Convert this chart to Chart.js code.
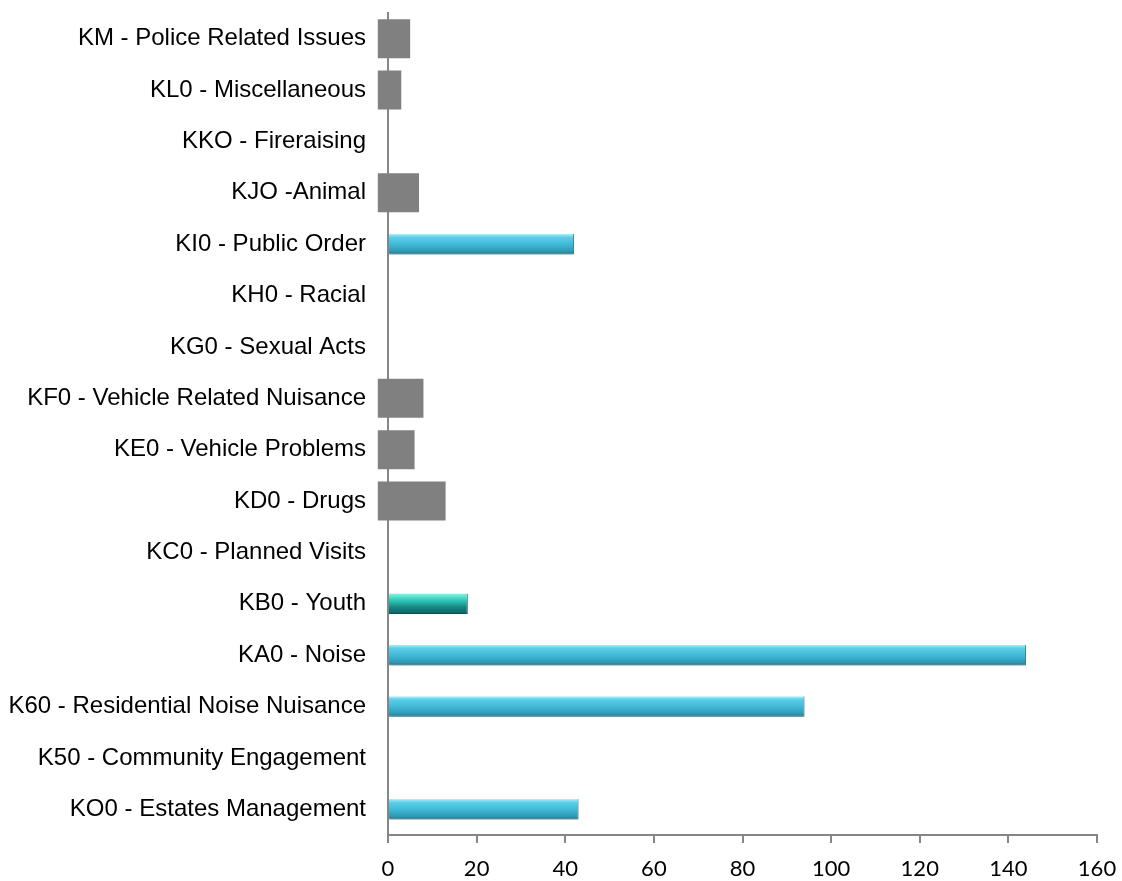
<!DOCTYPE html>
<html>
<head>
<meta charset="utf-8">
<script src="https://cdn.jsdelivr.net/npm/chart.js@4.4.1/dist/chart.umd.min.js"></script>
<style>
html,body{margin:0;padding:0;background:#fff;}
#wrap{width:1122px;height:881px;position:relative;}
</style>
</head>
<body>
<div id="wrap"><canvas id="c" width="1122" height="881"></canvas></div>
<script>
const categories = ['KM - Police Related Issues','KL0 - Miscellaneous','KKO - Fireraising','KJO -Animal','KI0 - Public Order','KH0 - Racial','KG0 - Sexual Acts','KF0 - Vehicle Related Nuisance','KE0 - Vehicle Problems','KD0 - Drugs','KC0 - Planned Visits','KB0 - Youth','KA0 - Noise','K60 - Residential Noise Nuisance','K50 - Community Engagement','KO0 - Estates Management'];
const grayValues = [5, 3, null, 7, null, null, null, 8, 6, 13, null, null, null, null, null, null];
const cyanValues = [null, null, null, null, 42, null, null, null, null, null, null, 18, 144, 94, null, 43];
const xTicks = [0, 20, 40, 60, 80, 100, 120, 140, 160];

const youthIndex = 11;

function cyanFill(ctx) {
  const chart = ctx.chart;
  const y = chart.scales && chart.scales.y;
  if (!y || !chart.chartArea) return '#3fb8d6';
  const yc = y.getPixelForValue(ctx.dataIndex);
  const h = 20;
  const g = chart.ctx.createLinearGradient(0, yc - h / 2, 0, yc + h / 2);
  if (ctx.dataIndex === youthIndex) {
    g.addColorStop(0, '#7ff5e4');
    g.addColorStop(0.3, '#2fcdb8');
    g.addColorStop(0.7, '#14837f');
    g.addColorStop(1, '#0e5f66');
  } else {
    g.addColorStop(0, '#a6eefa');
    g.addColorStop(0.15, '#5ccfe9');
    g.addColorStop(0.55, '#3db6d4');
    g.addColorStop(0.85, '#3099b5');
    g.addColorStop(1, '#2a7489');
  }
  return g;
}

const shadowPlugin = {
  id: 'shadow',
  beforeDatasetDraw(chart, args) {
    if (args.index === 1) {
      const c = chart.ctx;
      c.save();
      c.shadowColor = 'rgba(0,0,0,0.22)';
      c.shadowBlur = 5;
      c.shadowOffsetY = 4;
    }
  },
  afterDatasetDraw(chart, args) {
    if (args.index === 1) chart.ctx.restore();
  }
};

new Chart(document.getElementById('c'), {
  type: 'bar',
  data: {
    labels: categories,
    datasets: [
      {
        data: grayValues,
        backgroundColor: '#808080',
        borderWidth: 0,
        base: -2.3,
        grouped: false,
        categoryPercentage: 1,
        barPercentage: 0.76,
        clip: false,
        order: 2
      },
      {
        data: cyanValues,
        backgroundColor: cyanFill,
        borderColor: ctx => ctx.dataIndex === youthIndex ? '#0e5f66' : '#2b7f93',
        borderWidth: {top: 0, bottom: 1, left: 0, right: 1},
        grouped: false,
        categoryPercentage: 1,
        barPercentage: 0.40,
        clip: false,
        order: 1
      }
    ]
  },
  options: {
    indexAxis: 'y',
    responsive: false,
    animation: false,
    layout: {padding: {top: 13, right: 25, left: 0, bottom: 0}},
    plugins: {legend: {display: false}, tooltip: {enabled: false}},
    scales: {
      x: {
        min: 0,
        max: 160,
        afterBuildTicks: s => { s.ticks = xTicks.map(v => ({value: v})); },
        afterFit: s => { s.height = 46; s.paddingRight = 0; s.paddingLeft = 0; },
        grid: {drawOnChartArea: false, drawTicks: true, tickLength: 8, color: '#868686', lineWidth: 2},
        border: {display: true, color: '#868686', width: 2},
        ticks: {color: '#000', font: {family: 'Lato', size: 22}, padding: 13}
      },
      y: {
        afterFit: s => { s.width = 388; },
        grid: {display: true, drawOnChartArea: false, drawTicks: true, tickLength: 22, color: 'rgba(0,0,0,0)'},
        border: {display: true, color: '#868686', width: 2},
        ticks: {color: '#000', font: {family: "'Liberation Sans', Arial, sans-serif", size: 24, lineHeight: 1}, padding: 0, autoSkip: false}
      }
    }
  },
  plugins: [shadowPlugin]
});
</script>
</body>
</html>
